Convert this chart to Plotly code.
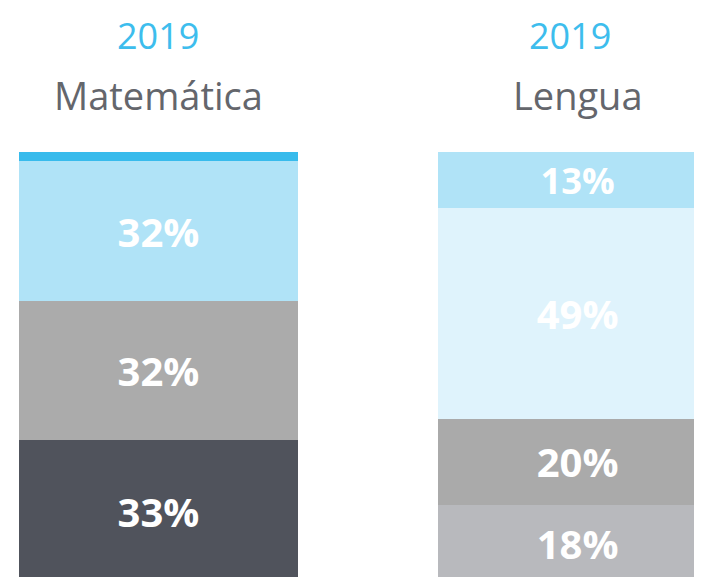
import plotly.graph_objects as go

subjects = ["Matemática", "Lengua"]
years = ["2019", "2019"]
# stacked segments, bottom to top (percent)
level1 = [33.0, 18.0]
level2 = [32.4, 20.0]
level3 = [32.4, 49.0]
level4 = [2.2, 13.0]
labels1 = ["33%", "18%"]
labels2 = ["32%", "20%"]
labels3 = ["32%", "49%"]
labels4 = ["", "13%"]

colors1 = ["#50535C", "#B8B9BD"]
colors2 = ["#ABABAB", "#AAAAAA"]
colors3 = ["#B0E3F7", "#DFF3FC"]
colors4 = ["#38BBEC", "#B0E3F7"]

xpos = list(range(len(subjects)))
fig = go.Figure()
for vals, labs, cols in [(level1, labels1, colors1), (level2, labels2, colors2),
                         (level3, labels3, colors3), (level4, labels4, colors4)]:
    fig.add_trace(go.Bar(
        x=xpos, y=vals, text=labs, width=0.666,
        marker=dict(color=cols, line=dict(width=0)),
        textposition="inside", insidetextanchor="middle",
        textfont=dict(family="Open Sans", size=40, color="white", weight="bold"),
        hoverinfo="skip", showlegend=False,
    ))

year_shift = [0, -8]
for i, (yr, sub) in enumerate(zip(years, subjects)):
    fig.add_annotation(x=i, xref="x", y=1.275, yref="paper", text=yr, showarrow=False,
                       xshift=year_shift[i],
                       font=dict(family="Open Sans", size=36, color="#3DBDED"),
                       yanchor="middle", xanchor="center")
    fig.add_annotation(x=i, xref="x", y=1.135, yref="paper", text=sub, showarrow=False,
                       font=dict(family="Open Sans", size=38, color="#64666C"),
                       yanchor="middle", xanchor="center")

fig.update_layout(
    width=702, height=577, barmode="stack",
    margin=dict(l=0, r=0, t=144, b=8),
    paper_bgcolor="white", plot_bgcolor="white",
    xaxis=dict(range=[-0.359, 1.316], visible=False, fixedrange=True),
    yaxis=dict(range=[1.16, 100], visible=False, fixedrange=True),
    uniformtext=dict(mode=False),
)
fig.write_html("out.html")
